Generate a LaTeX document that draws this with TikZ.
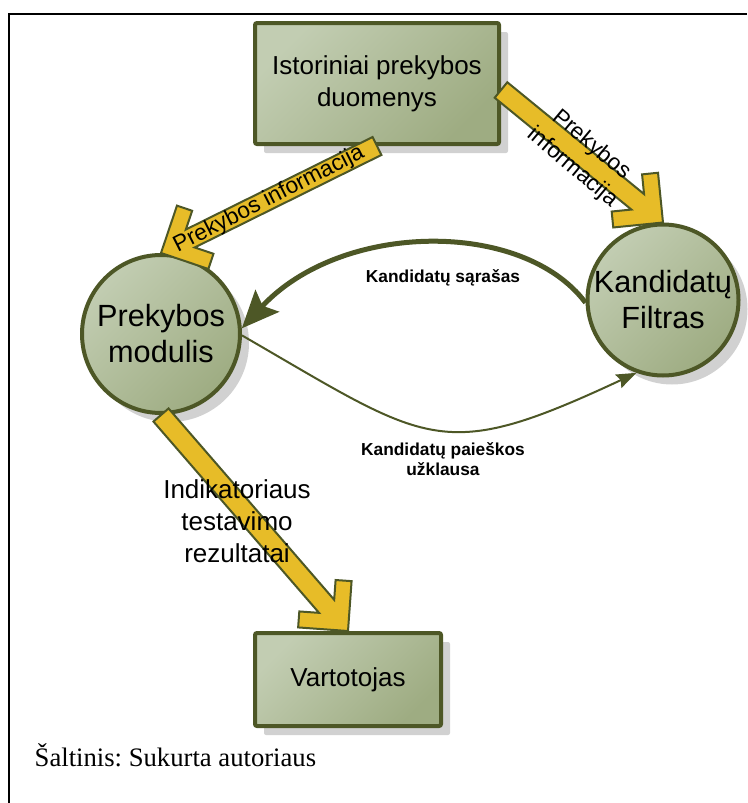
\documentclass[tikz,border=0pt]{standalone}
\usepackage{fontspec}
\setmainfont{Liberation Sans}
\newfontfamily\srcfont{Liberation Serif}
\usetikzlibrary{calc,shadows,arrows.meta}
\definecolor{darkolive}{RGB}{77,87,38}
\definecolor{boxlight}{RGB}{194,205,178}
\definecolor{boxdark}{RGB}{158,172,130}
\definecolor{arrowyellow}{RGB}{231,188,40}
\frenchspacing
\begin{document}
\begin{tikzpicture}[x=0.75pt,y=0.75pt,
    box/.style={rectangle,draw=darkolive,line width=3pt,rounded corners=1.5pt,
        top color=boxlight,bottom color=boxdark,shading angle=45,
        general shadow={shadow xshift=6.75pt,shadow yshift=-6.75pt,fill=black!18},
        align=center,font=\fontsize{19.5}{24}\selectfont},
    module/.style={circle,draw=darkolive,line width=3pt,inner sep=-4pt,
        top color=boxlight,bottom color=boxdark,shading angle=45,
        general shadow={shadow xshift=6.75pt,shadow yshift=-6.75pt,fill=black!18},
        align=center,font=\fontsize{23}{27}\selectfont},
    bigarrow/.style={draw=darkolive,fill=arrowyellow,line width=1.5pt,line join=miter},
    flow/.style={draw=darkolive},
    note/.style={font=\bfseries\fontsize{13}{15}\selectfont,align=center},
    info/.style={font=\fontsize{17}{22}\selectfont,align=center},
	]
% Wide yellow arrow: tail #1, tip #2
\def\blockarrow#1#2{%
    \draw[bigarrow] (#2)
        -- ($(#2)!37.5pt!45:(#1)$)
        -- ($(#2)!35pt!(#1)!18pt!90:(#1)$)
        -- ($(#2)!24.5pt!(#1)!7.5pt!90:(#1)$)
        -- ($(#1)!7.5pt!-90:(#2)$)
        -- ($(#1)!7.5pt!90:(#2)$)
        -- ($(#2)!24.5pt!(#1)!7.5pt!-90:(#1)$)
        -- ($(#2)!35pt!(#1)!18pt!-90:(#1)$)
        -- ($(#2)!37.5pt!-45:(#1)$)
        -- cycle;}

\useasboundingbox (0,0) rectangle (747,-803);
\draw[line width=2pt] (747,-14) -- (9,-14) -- (9,-803);

    %% Blocks
    \node[box,minimum width=183pt,minimum height=90.75pt] (hist) at (377,-83.5)
        {Istoriniai prekybos\\duomenys};
    \node[module,minimum size=118.5pt] (trade) at (161,-334) {Prekybos\\modulis};
    \node[module,minimum size=113.25pt] (filter) at (663,-300) {Kandidatų\\Filtras};
    \node[box,minimum width=139.5pt,minimum height=69.75pt] (user) at (348,-679.5)
        {Vartotojas};

    % Curved flows between the two modules
    \draw[flow,line width=3.75pt,-{Stealth[length=28pt,width=24pt,inset=5pt]}]
        (filter.182) .. controls +(-63,84) and +(99,107) .. (trade.4);
    \draw[flow,line width=1.5pt,-{Stealth[length=15pt,width=11pt,inset=2pt]}]
        (trade.-1) to[out=-30,in=205,looseness=1.4] (filter.250);

    % Wide arrows
    \blockarrow{hist.south}{trade.north}
    \blockarrow{hist.-3}{filter.north}
    \blockarrow{trade.south}{user.north}

    % Labels
    \node[info,rotate=27] (info1) at ($(hist.south)!.5!(trade.north)$)
        {Prekybos informacija};
    \node[info,rotate=-40] (info2) at ($(hist.-3)!.5!(filter.north)$)
        {Prekybos\\informacija};
    \node[font=\fontsize{19.5}{24}\selectfont,align=center] (result) at (237,-521)
        {Indikatoriaus\\testavimo\\rezultatai};
    \node[note] (list) at (443,-278) {Kandidatų sąrašas};
    \node[note] (query) at (443,-459) {Kandidatų paieškos\\užklausa};

    \node[anchor=base west,font=\srcfont\fontsize{20}{24}\selectfont] (src) at (30,-766)
        {Šaltinis: Sukurta autoriaus};
\end{tikzpicture}
\end{document}
